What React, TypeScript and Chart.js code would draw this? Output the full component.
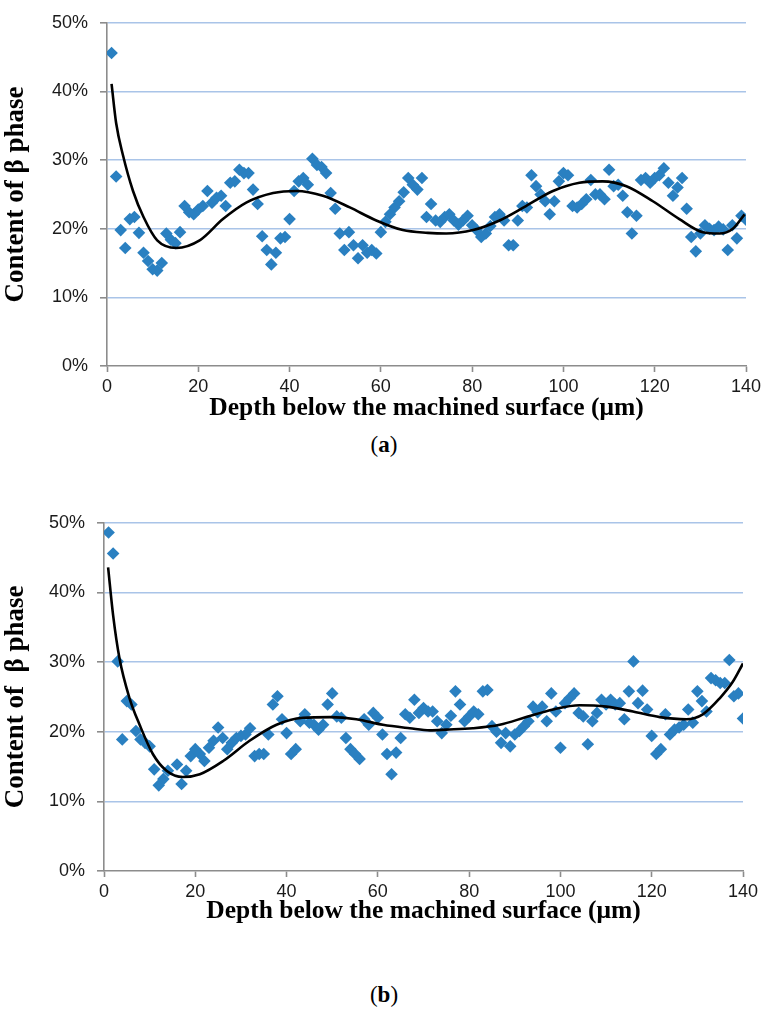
import React, { useEffect, useRef } from 'react';
import { Chart, registerables } from 'chart.js';

Chart.register(...registerables);

// (a) measured content of beta phase, % vs depth, um
const depthA = [1, 2, 3, 4, 5, 6, 7, 8, 9, 10, 11, 12, 13, 14, 15, 16, 17, 18, 19, 20, 21, 22, 23, 24, 25, 26, 27, 28, 29, 30, 31, 32, 33, 34, 35, 36, 37, 38, 39, 40, 41, 42, 43, 44, 45, 46, 47, 48, 49, 50, 51, 52, 53, 54, 55, 56, 57, 58, 59, 60, 61, 62, 63, 64, 65, 66, 67, 68, 69, 70, 71, 72, 73, 74, 75, 76, 77, 78, 79, 80, 81, 82, 83, 84, 85, 86, 87, 88, 89, 90, 91, 92, 93, 94, 95, 96, 97, 98, 99, 100, 101, 102, 103, 104, 105, 106, 107, 108, 109, 110, 111, 112, 113, 114, 115, 116, 117, 118, 119, 120, 121, 122, 123, 124, 125, 126, 127, 128, 129, 130, 131, 132, 133, 134, 135, 136, 137, 138, 139, 140];
const betaA = [45.6, 27.6, 19.8, 17.2, 21.4, 21.7, 19.4, 16.5, 15.3, 14.1, 13.9, 15.0, 19.3, 18.4, 17.9, 19.5, 23.3, 22.4, 22.1, 22.8, 23.3, 25.5, 23.8, 24.5, 24.8, 23.3, 26.7, 26.9, 28.6, 28.1, 28.1, 25.7, 23.6, 18.9, 16.9, 14.8, 16.5, 18.6, 18.8, 21.4, 25.5, 26.9, 27.4, 26.4, 30.2, 29.3, 29.0, 28.1, 25.2, 22.9, 19.3, 16.9, 19.5, 17.6, 15.7, 17.6, 16.5, 16.9, 16.4, 19.5, 21.0, 22.1, 23.1, 24.0, 25.3, 27.4, 26.4, 25.7, 27.4, 21.7, 23.6, 21.2, 21.0, 21.7, 22.1, 21.2, 20.6, 21.2, 21.9, 20.5, 19.8, 18.8, 19.3, 20.4, 21.7, 22.1, 21.2, 17.6, 17.6, 21.2, 23.3, 23.1, 27.8, 26.2, 25.0, 24.0, 22.1, 24.0, 26.9, 28.1, 27.8, 23.3, 23.1, 23.6, 24.3, 27.1, 25.0, 25.0, 24.3, 28.6, 26.2, 26.4, 24.8, 22.4, 19.3, 21.9, 27.1, 27.4, 26.7, 27.4, 27.8, 28.8, 26.7, 24.8, 26.0, 27.4, 22.9, 18.8, 16.7, 19.3, 20.5, 20.0, 19.8, 20.3, 19.9, 16.9, 20.5, 18.6, 21.9, 21.3];

// (a) trend line
const trendDepthA = [1, 2, 3.5, 5.7, 8, 11, 15.2, 20.3, 25.4, 30.5, 36.4, 41.5, 47.3, 53.2, 59, 64.8, 70.3, 74.3, 80.2, 86, 91.8, 97.7, 103.5, 108.6, 113.8, 119.6, 125.4, 130.5, 134.2, 137.1, 139.7];
const trendBetaA = [41.1, 35.4, 30.7, 25.5, 21.7, 18.3, 17.2, 18.3, 21.4, 23.8, 25.2, 25.5, 24.8, 23.1, 21.2, 19.8, 19.4, 19.3, 19.8, 21.2, 23.3, 25.5, 26.7, 26.9, 26.2, 24.0, 21.4, 19.5, 19.3, 20.0, 22.1];

// (b) measured content of beta phase
const depthB = [1, 2, 3, 4, 5, 6, 7, 8, 9, 10, 11, 12, 13, 14, 16, 17, 18, 19, 20, 21, 22, 23, 24, 25, 26, 27, 28, 29, 30, 31, 32, 33, 34, 35, 36, 37, 38, 39, 40, 41, 42, 43, 44, 45, 46, 47, 48, 49, 50, 51, 52, 53, 54, 55, 56, 57, 58, 59, 60, 61, 62, 63, 64, 65, 66, 67, 68, 69, 70, 71, 72, 73, 74, 75, 76, 77, 78, 79, 80, 81, 82, 83, 84, 85, 86, 87, 88, 89, 90, 91, 92, 93, 94, 95, 96, 97, 98, 99, 100, 101, 102, 103, 104, 105, 106, 107, 108, 109, 110, 111, 112, 113, 114, 115, 116, 117, 118, 119, 120, 121, 122, 123, 124, 125, 126, 127, 128, 129, 130, 131, 132, 133, 134, 135, 136, 137, 138, 139, 140];
const betaB = [48.6, 45.6, 30.1, 18.9, 24.4, 23.9, 20.1, 18.9, 18.4, 17.9, 14.6, 12.3, 13.2, 14.4, 15.3, 12.5, 14.4, 16.5, 17.5, 16.8, 15.8, 17.7, 18.7, 20.6, 19.1, 17.5, 18.4, 19.1, 19.4, 19.6, 20.5, 16.5, 16.8, 16.8, 19.6, 23.9, 25.1, 21.8, 19.8, 16.8, 17.5, 21.5, 22.5, 21.3, 21.0, 20.3, 21.0, 23.9, 25.5, 22.2, 22.0, 19.1, 17.5, 16.8, 16.1, 21.8, 21.0, 22.7, 22.0, 19.6, 16.8, 13.9, 17.0, 19.1, 22.5, 22.0, 24.6, 22.7, 23.4, 22.9, 22.9, 21.5, 19.8, 21.0, 22.3, 25.8, 23.9, 21.5, 22.2, 22.9, 22.5, 25.8, 26.0, 20.8, 20.0, 18.4, 19.8, 17.9, 19.6, 20.1, 20.8, 21.5, 23.6, 22.8, 23.6, 21.5, 25.5, 22.9, 17.7, 24.1, 24.8, 25.5, 22.7, 22.2, 18.2, 21.5, 22.7, 24.6, 23.9, 24.6, 23.9, 24.1, 21.8, 25.8, 30.1, 24.1, 25.9, 23.2, 19.4, 16.8, 17.5, 22.5, 19.6, 20.3, 20.6, 21.0, 23.2, 21.3, 25.8, 24.4, 22.9, 27.7, 27.4, 27.0, 27.0, 30.3, 25.1, 25.5, 21.9];

// (b) trend line
const trendDepthB = [0.9, 2, 3.4, 5.6, 7.8, 10.7, 13.7, 17.3, 21, 26.1, 31.9, 37.8, 43.6, 49.5, 55.3, 61.1, 67, 71.4, 75, 80.8, 86.7, 92.5, 98.4, 104.2, 110.1, 115.9, 121.8, 127.6, 131.2, 134.9, 137.8, 140];
const trendBetaB = [43.6, 36.7, 30.5, 24.8, 21.0, 16.8, 14.4, 13.5, 13.9, 15.8, 18.7, 21.0, 22.0, 22.1, 21.8, 21.0, 20.5, 20.2, 20.3, 20.5, 21.0, 22.1, 23.2, 23.8, 23.6, 22.9, 22.1, 21.8, 22.5, 24.8, 27.2, 29.8];

const xTicks = [0, 20, 40, 60, 80, 100, 120, 140];
const yTicks = [0, 10, 20, 30, 40, 50];

const AXIS_GREY = '#8c8c8c';
const GRID_BLUE = '#a9c4e8';
const MARKER_BLUE = '#2a80c1';
const SERIF = '"Liberation Serif", "Times New Roman", serif';
const SANS = '"Liberation Sans", Arial, sans-serif';

interface Frame {
  width: number;
  height: number;
  left: number;
  right: number;
  top: number;
  bottom: number;
  titlePad: number;
}

const pairs = (xs: number[], ys: number[]) => xs.map((x, i) => ({ x, y: ys[i] }));

function makeConfig(xs: number[], ys: number[], tx: number[], ty: number[], f: Frame, yTitle: string): any {
  return {
    type: 'scatter',
    data: {
      datasets: [
        {
          data: pairs(tx, ty),
          showLine: true,
          borderColor: '#000',
          borderWidth: 2.6,
          pointRadius: 0,
          cubicInterpolationMode: 'monotone',
          order: 0,
        },
        {
          data: pairs(xs, ys),
          pointStyle: 'rectRot',
          pointRadius: 6.3,
          backgroundColor: MARKER_BLUE,
          borderColor: MARKER_BLUE,
          borderWidth: 0,
          order: 1,
        },
      ],
    },
    options: {
      responsive: false,
      animation: false,
      layout: { padding: { left: 0, right: f.width - f.right, top: f.top, bottom: 0 } },
      plugins: { legend: { display: false }, tooltip: { enabled: false } },
      scales: {
        x: {
          type: 'linear',
          min: 0,
          max: 140,
          afterFit: (s: any) => { s.height = f.height - f.bottom; },
          afterBuildTicks: (s: any) => { s.ticks = xTicks.map((v) => ({ value: v })); },
          border: { color: AXIS_GREY, width: 1.6 },
          grid: { display: true, drawOnChartArea: false, drawTicks: true, tickLength: 6, tickColor: AXIS_GREY, tickWidth: 1.6 },
          ticks: {
            color: '#1a1a1a',
            padding: 4,
            font: { family: SANS, size: 18 },
            callback: (v: any) => String(v),
          },
          title: {
            display: true,
            text: 'Depth below the machined surface (μm)',
            color: '#000',
            font: { family: SERIF, size: 25.5, weight: 'bold' },
            padding: { top: 0, bottom: f.titlePad },
          },
        },
        y: {
          type: 'linear',
          min: 0,
          max: 50,
          afterFit: (s: any) => { s.width = f.left; },
          afterBuildTicks: (s: any) => { s.ticks = yTicks.map((v) => ({ value: v })); },
          border: { color: AXIS_GREY, width: 1.6 },
          grid: {
            color: (c: any) => (c.tick && c.tick.value === 0 ? 'rgba(0,0,0,0)' : GRID_BLUE),
            lineWidth: 1.6,
            drawTicks: true,
            tickLength: 7,
            tickColor: AXIS_GREY,
            tickWidth: 1.6,
          },
          ticks: {
            color: '#1a1a1a',
            padding: 12,
            font: { family: SANS, size: 18 },
            callback: (v: any) => v + '%',
          },
          title: {
            display: true,
            text: yTitle,
            color: '#000',
            font: { family: SERIF, size: 27, weight: 'bold' },
            padding: { top: 0, bottom: 0 },
          },
        },
      },
    },
  };
}

const FrameChart: React.FC<{ xs: number[]; ys: number[]; tx: number[]; ty: number[]; f: Frame; yTitle: string }> = ({ xs, ys, tx, ty, f, yTitle }) => {
  const ref = useRef<HTMLCanvasElement>(null);
  useEffect(() => {
    if (!ref.current) return;
    const chart = new Chart(ref.current, makeConfig(xs, ys, tx, ty, f, yTitle));
    return () => chart.destroy();
  }, [xs, ys, tx, ty, f, yTitle]);
  return <canvas ref={ref} width={f.width} height={f.height} style={{ display: 'block', width: f.width, height: f.height }} />;
};

const frameA: Frame = { width: 768, height: 430, left: 107, right: 746, top: 14, bottom: 366, titlePad: 6 };
const frameB: Frame = { width: 768, height: 440, left: 104, right: 743, top: 20, bottom: 371, titlePad: 13 };

const capStyle: React.CSSProperties = {
  position: 'absolute',
  left: 0,
  width: 768,
  textAlign: 'center',
  fontFamily: SERIF,
  fontSize: 23,
  color: '#000',
  lineHeight: '26px',
};

export default function App() {
  return (
    <div style={{ position: 'absolute', left: 0, top: 0, width: 768, height: 1024, background: '#fff', overflow: 'hidden' }}>
      <div style={{ position: 'absolute', left: 0, top: 0 }}>
        <FrameChart xs={depthA} ys={betaA} tx={trendDepthA} ty={trendBetaA} f={frameA} yTitle="Content of β phase" />
      </div>
      <div style={{ ...capStyle, top: 432 }}>
        (<b>a</b>)
      </div>
      <div style={{ position: 'absolute', left: 0, top: 500 }}>
        <FrameChart xs={depthB} ys={betaB} tx={trendDepthB} ty={trendBetaB} f={frameB} yTitle="Content of  β phase" />
      </div>
      <div style={{ ...capStyle, top: 982 }}>
        (<b>b</b>)
      </div>
    </div>
  );
}
